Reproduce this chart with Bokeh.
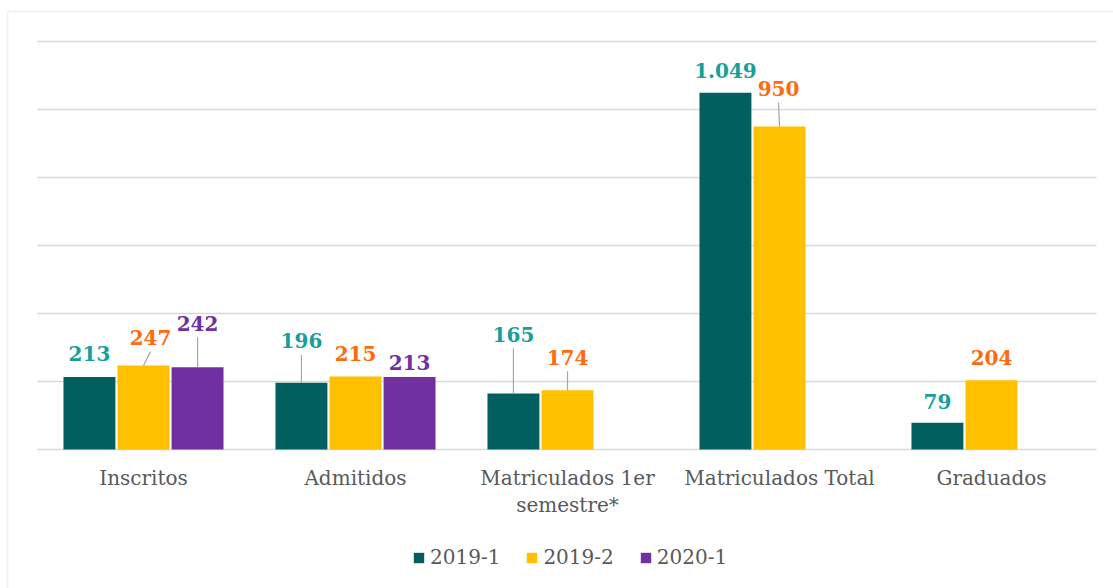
from bokeh.plotting import figure
from bokeh.models import ColumnDataSource, FixedTicker, Legend, LegendItem, Range1d, BoxAnnotation
from bokeh.embed import file_html
from bokeh.resources import INLINE
from bokeh.core.properties import value

# ---------------- data ----------------
categories = ["Inscritos", "Admitidos", "Matriculados 1er\nsemestre*",
              "Matriculados Total", "Graduados"]
series = ["2019-1", "2019-2", "2020-1"]
v2019_1 = [213, 196, 165, 1049, 79]
v2019_2 = [247, 215, 174, 950, 204]
v2020_1 = [242, 213, None, None, None]

# ---------------- styles / layout ----------------
bar_colors = ["#01605F", "#FFC000", "#7030A0"]
label_colors = ["#17A09A", "#FF6A0D", "#7030A0"]
font = "DejaVu Serif"
grid_color = "#D9D9D9"
text_gray = "#595959"

# label displacement (pixels): dx to the right, dy = label centre above bar top
label_dx = [[0, 0, 0, 0, 0], [7, 0, 0, -1, 0], [0, 0, 0, 0, 0]]
label_dy = [[24, 42, 59, 22, 21], [28, 23, 33, 38, 23], [44, 15, 0, 0, 0]]

W, H = 1113, 588
PLOT_LEFT, PLOT_TOP, PLOT_BOTTOM = 37, 41, 449   # pixel geometry of the value area
CAT_W = 212                                       # pixels per category
y_max = 1200
PX_PER_UNIT = (PLOT_BOTTOM - PLOT_TOP) / y_max

def xd(px):
    return -0.5 + (px - PLOT_LEFT) / CAT_W

def yd(py):
    return (PLOT_BOTTOM - py) / PX_PER_UNIT

x_units_per_px = 1 / CAT_W
y_units_per_px = 1 / PX_PER_UNIT

p = figure(width=W, height=H, output_backend="svg", toolbar_location=None,
           x_range=Range1d(xd(0), xd(W)), y_range=Range1d(yd(H), yd(0)),
           x_axis_location=None, y_axis_location=None,
           min_border=0, min_border_left=0, min_border_right=0,
           min_border_top=0, min_border_bottom=0)
p.outline_line_color = None
p.background_fill_color = "white"
p.border_fill_color = "white"

# outer chart border (top and left visible, as in the reference)
p.add_layout(BoxAnnotation(left=xd(7), right=xd(W + 20), top=yd(11), bottom=yd(H + 20),
                           fill_alpha=0, line_color="#D4D4D4", line_width=2))

# gridlines 0..1200
p.xgrid.grid_line_color = None
p.ygrid.visible = False
gy = list(range(0, y_max + 1, 200))
p.segment(x0=[xd(PLOT_LEFT)] * len(gy), x1=[xd(1096)] * len(gy), y0=gy, y1=gy,
          line_color=grid_color, line_width=1.6)

offsets = [-0.255, 0.0, 0.255]
bw = 0.245
renderers = []
all_vals = [v2019_1, v2019_2, v2020_1]
for s, vals in enumerate(all_vals):
    xs, ys, txt, dxs, dys = [], [], [], [], []
    lx0, ly0, lx1, ly1 = [], [], [], []
    for i, v in enumerate(vals):
        if v is None:
            continue
        x = i + offsets[s]
        xs.append(x)
        ys.append(v)
        txt.append(f"{v:,}".replace(",", "."))
        dx = label_dx[s][i]
        dy = label_dy[s][i]
        dxs.append(dx)
        dys.append(-dy)
        if dy >= 28:
            lx0.append(x)
            ly0.append(v)
            lx1.append(x + dx * x_units_per_px)
            ly1.append(v + (dy - 14) * y_units_per_px)
    src = ColumnDataSource(dict(x=xs, top=ys, text=txt, dx=dxs, dy=dys))
    r = p.vbar(x="x", top="top", width=bw, source=src, fill_color=bar_colors[s],
               line_color=None)
    renderers.append(r)
    if lx0:
        p.segment(x0=lx0, y0=ly0, x1=lx1, y1=ly1, line_color="#A6A6A6", line_width=1.2)
    p.text(x="x", y="top", text="text", x_offset="dx", y_offset="dy", source=src,
           text_font=value(font), text_font_style="bold", text_font_size="20px",
           text_color=label_colors[s], text_align="center", text_baseline="middle")

# category labels under the baseline
p.text(x=list(range(len(categories))), y=[0] * len(categories), text=categories,
       y_offset=16, text_font=value(font), text_font_size="20px", text_color=text_gray,
       text_align="center", text_baseline="top", text_line_height=1.15)

legend = Legend(items=[LegendItem(label=series[k], renderers=[renderers[k]]) for k in range(3)],
                orientation="horizontal", location=(412, 19),
                label_text_font=font, label_text_font_size="20px",
                label_text_color=text_gray, glyph_width=13, glyph_height=13,
                spacing=25, label_standoff=5, border_line_color=None,
                background_fill_alpha=0, padding=0, margin=0)
p.add_layout(legend, "center")

open("out.html", "w").write(file_html(p, INLINE))
